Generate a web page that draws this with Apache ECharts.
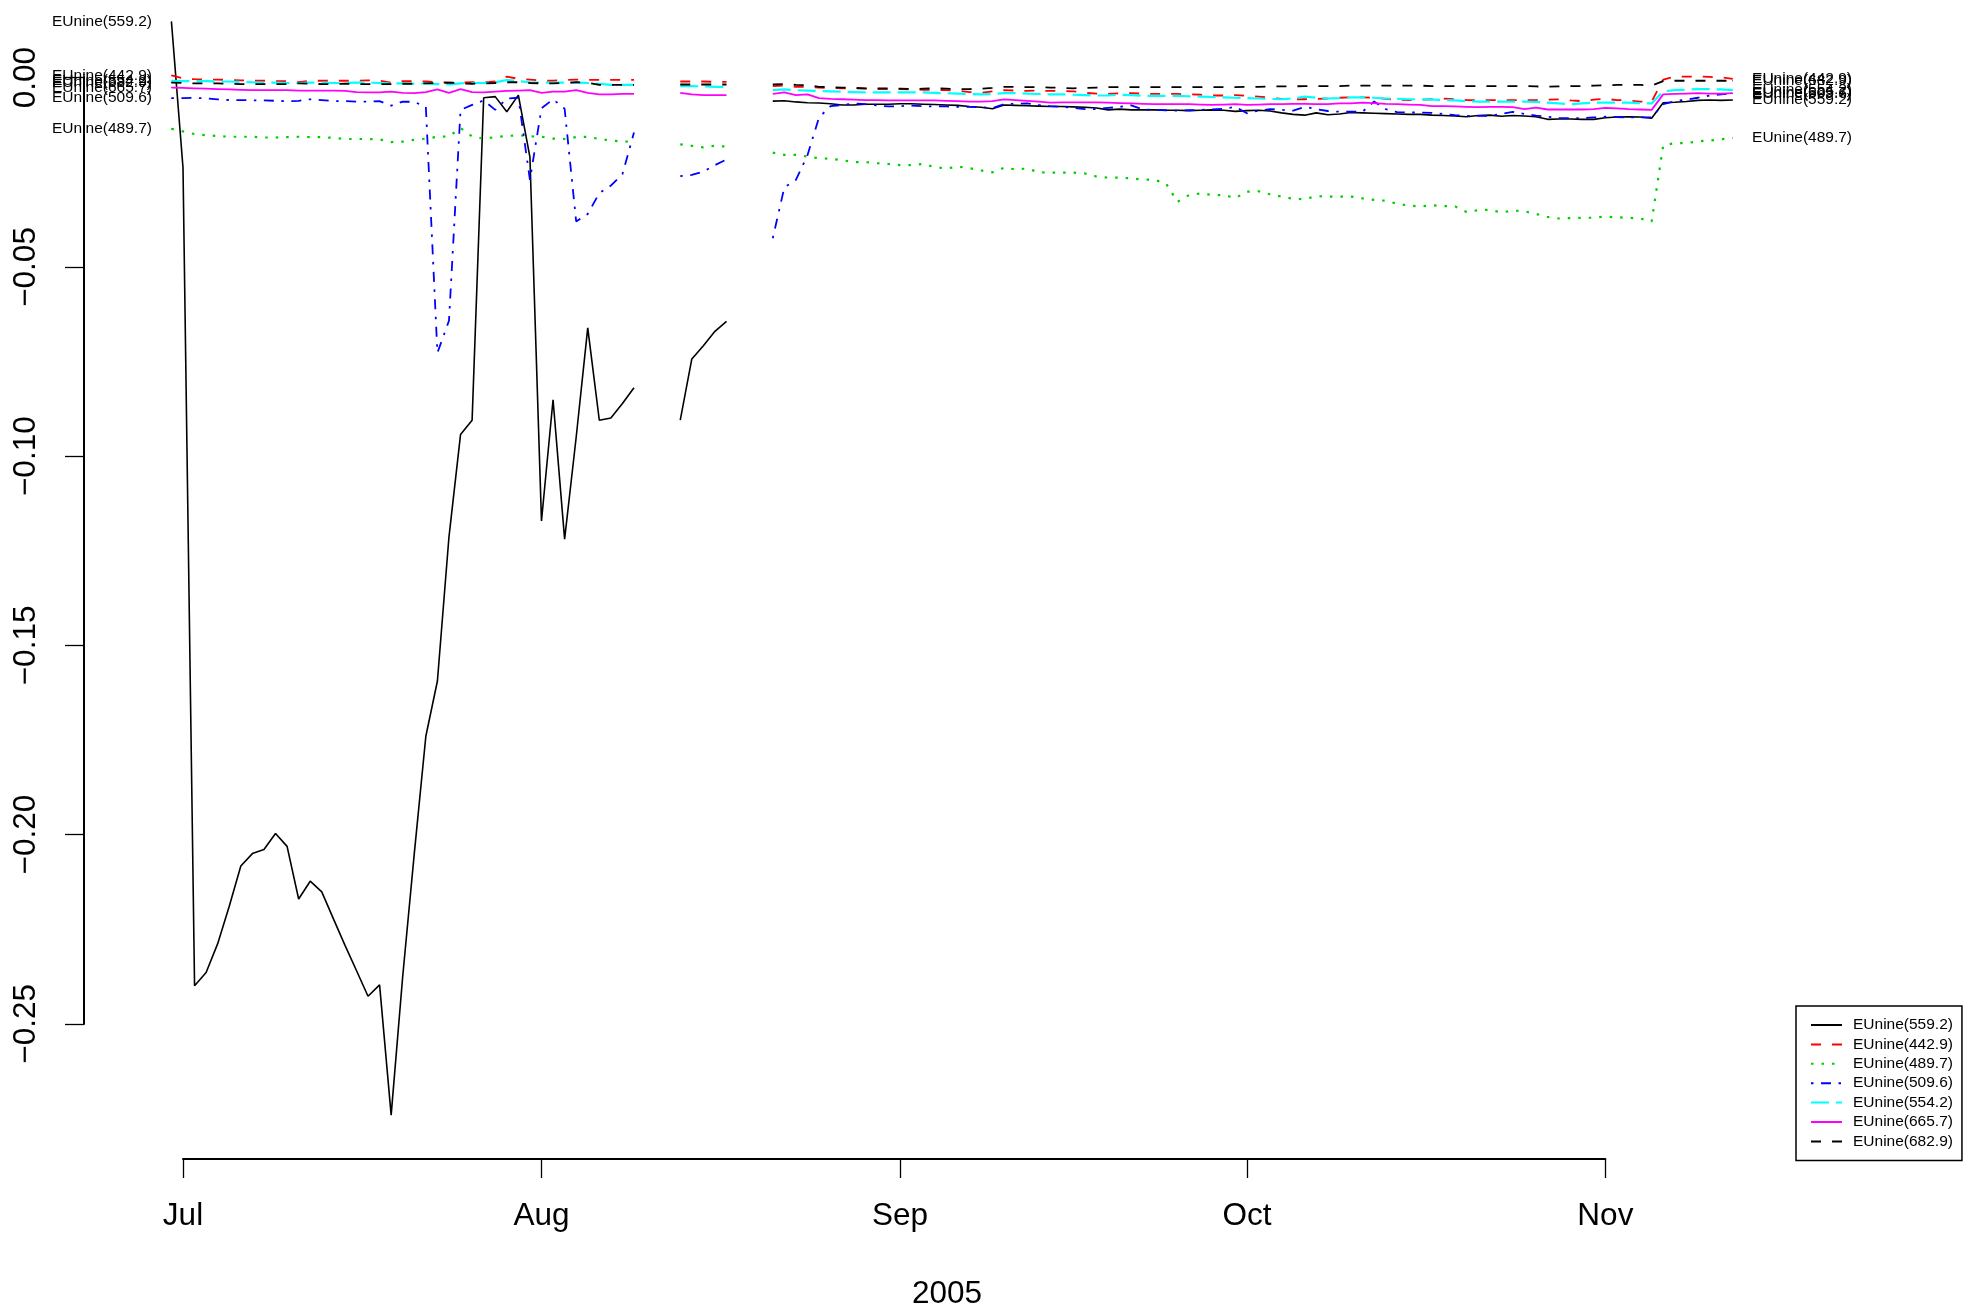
<!DOCTYPE html>
<html><head><meta charset="utf-8">
<script src="https://cdn.jsdelivr.net/npm/echarts@6/dist/echarts.min.js"></script>
<style>html,body{margin:0;padding:0;background:#fff;}#c{width:1965px;height:1313px;}</style>
</head><body><div id="c"></div>
<script>
// ---------- data (x = days since 2005-07-01, first value at day -1) ----------
const dayStart = -1;
const seriesNames = ['EUnine(559.2)','EUnine(442.9)','EUnine(489.7)','EUnine(509.6)','EUnine(554.2)','EUnine(665.7)','EUnine(682.9)'];
const s559 = [
 0.0148,-0.0238,-0.2399,-0.2364,-0.2288,-0.2189,-0.2083,-0.2050,-0.2039,-0.1997,
 -0.2031,-0.2170,-0.2123,-0.2151,-0.2222,-0.2292,-0.2359,-0.2427,-0.2397,-0.2741,
 -0.2374,-0.2050,-0.1740,-0.1594,-0.1213,-0.0943,-0.0905,-0.0053,-0.0050,-0.0090,
 -0.0046,-0.0210,-0.1171,-0.0851,-0.1219,-0.0950,-0.0661,-0.0905,-0.0899,-0.0861,
 -0.0819,null,null,null,-0.0905,-0.0743,-0.0708,-0.0670,-0.0644,null,
 null,null,-0.0062,-0.0061,-0.0064,-0.0066,-0.0067,-0.0069,-0.0072,-0.0072,
 -0.0070,-0.0070,-0.0070,-0.0069,-0.0069,-0.0070,-0.0071,-0.0072,-0.0073,-0.0076,
 -0.0078,-0.0082,-0.0072,-0.0073,-0.0074,-0.0075,-0.0076,-0.0076,-0.0077,-0.0078,
 -0.0080,-0.0085,-0.0083,-0.0085,-0.0085,-0.0085,-0.0086,-0.0086,-0.0087,-0.0086,
 -0.0085,-0.0086,-0.0089,-0.0087,-0.0086,-0.0088,-0.0093,-0.0097,-0.0099,-0.0093,
 -0.0098,-0.0096,-0.0092,-0.0093,-0.0094,-0.0095,-0.0096,-0.0097,-0.0097,-0.0099,
 -0.0100,-0.0101,-0.0103,-0.0100,-0.0099,-0.0102,-0.0100,-0.0101,-0.0103,-0.0110,
 -0.0109,-0.0109,-0.0110,-0.0110,-0.0106,-0.0104,-0.0103,-0.0104,-0.0107,-0.0066,
 -0.0065,-0.0063,-0.0060,-0.0059,-0.0060,-0.0059];
const s442 = [
 0.0006,-0.0002,-0.0004,-0.0005,-0.0005,-0.0006,-0.0007,-0.0008,-0.0008,-0.0009,
 -0.0009,-0.0012,-0.0008,-0.0008,-0.0008,-0.0008,-0.0008,-0.0007,-0.0008,-0.0013,
 -0.0009,-0.0009,-0.0010,-0.0012,-0.0013,-0.0013,-0.0012,-0.0012,-0.0010,0.0003,
 -0.0003,-0.0005,-0.0008,-0.0008,-0.0006,-0.0005,-0.0006,-0.0006,-0.0006,-0.0006,
 -0.0006,null,null,null,-0.0010,-0.0010,-0.0010,-0.0011,-0.0011,null,
 null,null,-0.0022,-0.0021,-0.0024,-0.0024,-0.0026,-0.0027,-0.0028,-0.0028,
 -0.0029,-0.0030,-0.0030,-0.0030,-0.0031,-0.0032,-0.0032,-0.0033,-0.0034,-0.0038,
 -0.0040,-0.0036,-0.0033,-0.0034,-0.0035,-0.0034,-0.0035,-0.0035,-0.0036,-0.0040,
 -0.0042,-0.0043,-0.0041,-0.0041,-0.0042,-0.0043,-0.0043,-0.0043,-0.0044,-0.0045,
 -0.0047,-0.0047,-0.0046,-0.0048,-0.0050,-0.0053,-0.0056,-0.0057,-0.0057,-0.0056,
 -0.0055,-0.0053,-0.0052,-0.0052,-0.0053,-0.0056,-0.0058,-0.0059,-0.0058,-0.0057,
 -0.0055,-0.0057,-0.0059,-0.0059,-0.0059,-0.0059,-0.0059,-0.0059,-0.0059,-0.0058,
 -0.0057,-0.0060,-0.0062,-0.0058,-0.0056,-0.0059,-0.0060,-0.0063,-0.0063,-0.0005,
 0.0003,0.0003,0.0003,0.0002,0.0001,-0.0003];
const s489 = [
 -0.0135,-0.0142,-0.0149,-0.0152,-0.0154,-0.0156,-0.0156,-0.0156,-0.0158,-0.0158,
 -0.0157,-0.0156,-0.0157,-0.0157,-0.0159,-0.0162,-0.0162,-0.0162,-0.0163,-0.0170,
 -0.0169,-0.0164,-0.0161,-0.0156,-0.0155,-0.0133,-0.0155,-0.0161,-0.0157,-0.0154,
 -0.0152,-0.0155,-0.0156,-0.0161,-0.0162,-0.0157,-0.0156,-0.0162,-0.0166,-0.0169,
 -0.0168,null,null,null,-0.0176,-0.0180,-0.0184,-0.0180,-0.0182,null,
 null,null,-0.0198,-0.0204,-0.0204,-0.0208,-0.0213,-0.0214,-0.0218,-0.0223,
 -0.0223,-0.0226,-0.0228,-0.0231,-0.0231,-0.0228,-0.0236,-0.0240,-0.0235,-0.0239,
 -0.0245,-0.0250,-0.0238,-0.0242,-0.0240,-0.0250,-0.0251,-0.0251,-0.0251,-0.0253,
 -0.0261,-0.0264,-0.0264,-0.0266,-0.0269,-0.0270,-0.0279,-0.0328,-0.0310,-0.0306,
 -0.0310,-0.0310,-0.0318,-0.0301,-0.0300,-0.0308,-0.0314,-0.0320,-0.0321,-0.0313,
 -0.0314,-0.0314,-0.0314,-0.0319,-0.0323,-0.0325,-0.0333,-0.0338,-0.0340,-0.0337,
 -0.0339,-0.0340,-0.0355,-0.0350,-0.0349,-0.0356,-0.0351,-0.0353,-0.0360,-0.0368,
 -0.0372,-0.0371,-0.0370,-0.0370,-0.0367,-0.0369,-0.0370,-0.0372,-0.0380,-0.0179,
 -0.0173,-0.0173,-0.0168,-0.0166,-0.0163,-0.0159];
const s509 = [
 -0.0054,-0.0054,-0.0053,-0.0055,-0.0057,-0.0059,-0.0059,-0.0060,-0.0060,-0.0061,
 -0.0062,-0.0061,-0.0057,-0.0059,-0.0062,-0.0062,-0.0063,-0.0063,-0.0062,-0.0074,
 -0.0063,-0.0064,-0.0077,-0.0727,-0.0642,-0.0085,-0.0072,-0.0060,-0.0085,-0.0055,
 -0.0053,-0.0270,-0.0081,-0.0057,-0.0082,-0.0380,-0.0360,-0.0305,-0.0285,-0.0255,
 -0.0145,null,null,null,-0.0260,-0.0257,-0.0248,-0.0231,-0.0216,null,
 null,null,-0.0424,-0.0290,-0.0270,-0.0205,-0.0105,-0.0075,-0.0072,-0.0068,
 -0.0070,-0.0073,-0.0076,-0.0075,-0.0074,-0.0075,-0.0076,-0.0076,-0.0077,-0.0077,
 -0.0078,-0.0080,-0.0070,-0.0069,-0.0068,-0.0072,-0.0075,-0.0077,-0.0080,-0.0083,
 -0.0083,-0.0080,-0.0077,-0.0073,-0.0084,-0.0085,-0.0086,-0.0087,-0.0086,-0.0085,
 -0.0084,-0.0082,-0.0077,-0.0094,-0.0087,-0.0083,-0.0085,-0.0087,-0.0077,-0.0083,
 -0.0088,-0.0090,-0.0090,-0.0090,-0.0063,-0.0083,-0.0091,-0.0092,-0.0092,-0.0093,
 -0.0096,-0.0099,-0.0101,-0.0101,-0.0101,-0.0096,-0.0090,-0.0096,-0.0100,-0.0103,
 -0.0106,-0.0107,-0.0107,-0.0105,-0.0103,-0.0104,-0.0105,-0.0105,-0.0105,-0.0070,
 -0.0062,-0.0058,-0.0053,-0.0047,-0.0044,-0.0042];
const s554 = [
 -0.0008,-0.0009,-0.0009,-0.0009,-0.0010,-0.0010,-0.0011,-0.0012,-0.0013,-0.0013,
 -0.0014,-0.0014,-0.0013,-0.0013,-0.0014,-0.0014,-0.0013,-0.0013,-0.0014,-0.0015,
 -0.0015,-0.0016,-0.0015,-0.0017,-0.0018,-0.0015,-0.0014,-0.0014,-0.0012,-0.0006,
 -0.0009,-0.0012,-0.0013,-0.0013,-0.0013,-0.0013,-0.0014,-0.0016,-0.0019,-0.0019,
 -0.0019,null,null,null,-0.0022,-0.0022,-0.0023,-0.0024,-0.0024,null,
 null,null,-0.0033,-0.0031,-0.0033,-0.0034,-0.0035,-0.0036,-0.0037,-0.0038,
 -0.0039,-0.0039,-0.0039,-0.0039,-0.0039,-0.0039,-0.0040,-0.0041,-0.0042,-0.0043,
 -0.0044,-0.0043,-0.0041,-0.0041,-0.0042,-0.0043,-0.0044,-0.0044,-0.0045,-0.0046,
 -0.0047,-0.0047,-0.0045,-0.0046,-0.0048,-0.0048,-0.0048,-0.0048,-0.0049,-0.0050,
 -0.0051,-0.0052,-0.0053,-0.0054,-0.0055,-0.0056,-0.0057,-0.0055,-0.0050,-0.0053,
 -0.0055,-0.0054,-0.0052,-0.0052,-0.0053,-0.0055,-0.0056,-0.0057,-0.0057,-0.0058,
 -0.0059,-0.0060,-0.0062,-0.0063,-0.0063,-0.0063,-0.0063,-0.0063,-0.0064,-0.0066,
 -0.0068,-0.0070,-0.0068,-0.0066,-0.0066,-0.0066,-0.0066,-0.0067,-0.0068,-0.0036,
 -0.0033,-0.0032,-0.0030,-0.0030,-0.0031,-0.0033];
const s665 = [
 -0.0026,-0.0027,-0.0028,-0.0029,-0.0030,-0.0031,-0.0032,-0.0033,-0.0033,-0.0033,
 -0.0033,-0.0034,-0.0034,-0.0034,-0.0034,-0.0035,-0.0038,-0.0039,-0.0039,-0.0037,
 -0.0040,-0.0041,-0.0038,-0.0031,-0.0040,-0.0030,-0.0038,-0.0039,-0.0037,-0.0035,
 -0.0034,-0.0033,-0.0040,-0.0037,-0.0037,-0.0033,-0.0040,-0.0044,-0.0044,-0.0043,
 -0.0043,null,null,null,-0.0040,-0.0044,-0.0046,-0.0046,-0.0046,null,
 null,null,-0.0043,-0.0039,-0.0046,-0.0044,-0.0054,-0.0056,-0.0057,-0.0058,
 -0.0059,-0.0059,-0.0060,-0.0060,-0.0060,-0.0060,-0.0060,-0.0061,-0.0062,-0.0063,
 -0.0063,-0.0062,-0.0057,-0.0059,-0.0061,-0.0063,-0.0066,-0.0065,-0.0065,-0.0065,
 -0.0065,-0.0066,-0.0067,-0.0068,-0.0069,-0.0070,-0.0070,-0.0070,-0.0070,-0.0071,
 -0.0072,-0.0071,-0.0070,-0.0072,-0.0071,-0.0070,-0.0070,-0.0069,-0.0069,-0.0070,
 -0.0070,-0.0068,-0.0068,-0.0066,-0.0067,-0.0069,-0.0070,-0.0071,-0.0072,-0.0075,
 -0.0075,-0.0076,-0.0077,-0.0078,-0.0077,-0.0077,-0.0078,-0.0083,-0.0079,-0.0084,
 -0.0084,-0.0084,-0.0084,-0.0083,-0.0080,-0.0081,-0.0083,-0.0084,-0.0085,-0.0044,
 -0.0043,-0.0042,-0.0041,-0.0042,-0.0042,-0.0041];
const s682 = [
 -0.0013,-0.0014,-0.0015,-0.0015,-0.0015,-0.0016,-0.0017,-0.0017,-0.0017,-0.0017,
 -0.0017,-0.0015,-0.0016,-0.0017,-0.0017,-0.0016,-0.0017,-0.0017,-0.0017,-0.0017,
 -0.0016,-0.0016,-0.0015,-0.0014,-0.0013,-0.0015,-0.0016,-0.0015,-0.0014,-0.0012,
 -0.0012,-0.0014,-0.0015,-0.0015,-0.0014,-0.0012,-0.0013,-0.0019,-0.0019,-0.0019,
 -0.0019,null,null,null,-0.0018,-0.0018,-0.0018,-0.0018,-0.0018,null,
 null,null,-0.0018,-0.0017,-0.0019,-0.0020,-0.0024,-0.0025,-0.0026,-0.0027,
 -0.0028,-0.0028,-0.0028,-0.0029,-0.0030,-0.0029,-0.0028,-0.0029,-0.0030,-0.0030,
 -0.0029,-0.0027,-0.0024,-0.0024,-0.0025,-0.0025,-0.0026,-0.0027,-0.0028,-0.0027,
 -0.0026,-0.0025,-0.0025,-0.0025,-0.0025,-0.0025,-0.0025,-0.0025,-0.0025,-0.0025,
 -0.0025,-0.0025,-0.0025,-0.0024,-0.0024,-0.0023,-0.0023,-0.0023,-0.0022,-0.0022,
 -0.0022,-0.0022,-0.0021,-0.0021,-0.0021,-0.0021,-0.0021,-0.0021,-0.0021,-0.0022,
 -0.0022,-0.0022,-0.0022,-0.0022,-0.0022,-0.0022,-0.0022,-0.0022,-0.0023,-0.0024,
 -0.0023,-0.0022,-0.0022,-0.0021,-0.0020,-0.0019,-0.0019,-0.0019,-0.0021,-0.0009,
 -0.0008,-0.0008,-0.0008,-0.0008,-0.0008,-0.0008];
const monthTickDays = [0, 31, 62, 92, 123];
const monthLabels = ['Jul', 'Aug', 'Sep', 'Oct', 'Nov'];
const yTickValues = [0, -0.05, -0.10, -0.15, -0.20, -0.25];
const yTickLabels = ['0.00', '\u22120.05', '\u22120.10', '\u22120.15', '\u22120.20', '\u22120.25'];
const xTitle = '2005';

// ---------- styling / layout ----------
const FONT = '"Liberation Sans", Arial, Helvetica, sans-serif';
const colors = ['#000000', '#ff0000', '#00cd00', '#0000ff', '#00ffff', '#ff00ff', '#000000'];
const dashes = ['solid', [10, 11], [2.5, 8], [2.5, 7.5, 10, 7.5], [18, 7], 'solid', [10, 11]];
const widths = [1.6, 1.8, 2.2, 1.8, 2.2, 1.8, 1.8];
const X0 = 183, PPD = 11.564;   // px of day 0, px per day
const Y0 = 77.7, PPU = 3784.8;  // px of value 0, px per unit
const XMIN = -10, XMAX = 140, YMIN = -0.29, YMAX = 0.02;

const allValues = [s559, s442, s489, s509, s554, s665, s682];

function buildData(vals, name) {
  const first = vals.findIndex(v => v !== null);
  let last = vals.length - 1; while (vals[last] === null) last--;
  return vals.map((v, i) => {
    const d = dayStart + i;
    if (v === null) return [d, '-'];
    if (i === first || i === last) {
      return {
        value: [d, v], symbol: 'circle', symbolSize: 1,
        label: { show: true, position: i === first ? 'left' : 'right', distance: 19,
          formatter: () => name, color: '#000', fontSize: 15.5, fontFamily: FONT }
      };
    }
    return [d, v];
  });
}

const series = allValues.map((vals, k) => ({
  name: seriesNames[k], type: 'line', xAxisIndex: 0, yAxisIndex: 0,
  data: buildData(vals, seriesNames[k]),
  symbol: 'none', showSymbol: true, connectNulls: false, silent: true,
  emphasis: { disabled: true },
  itemStyle: { color: colors[k] },
  lineStyle: { color: colors[k], width: widths[k], type: dashes[k] }
}));

const chart = echarts.init(document.getElementById('c'), null, { renderer: 'canvas' });
chart.setOption({
  animation: false,
  backgroundColor: '#ffffff',
  grid: [
    { left: X0 + XMIN * PPD, width: (XMAX - XMIN) * PPD, top: Y0 - YMAX * PPU, height: (YMAX - YMIN) * PPU, outerBoundsMode: 'none', containLabel: false },
    { left: X0, width: 123 * PPD, top: 1100, height: 59, outerBoundsMode: 'none', containLabel: false },
    { left: 84, width: 50, top: Y0, height: 0.25 * PPU, outerBoundsMode: 'none', containLabel: false }
  ],
  xAxis: [
    { type: 'value', gridIndex: 0, min: XMIN, max: XMAX, show: false },
    { type: 'value', gridIndex: 1, min: 0, max: 123, position: 'bottom',
      axisLine: { show: true, lineStyle: { color: '#000', width: 2 } },
      axisTick: { show: true, length: 19, customValues: monthTickDays, lineStyle: { color: '#000', width: 1.3 } },
      axisLabel: { show: true, customValues: monthTickDays, margin: 41, fontSize: 31.5, fontFamily: FONT, color: '#000',
        formatter: v => { const i = monthTickDays.indexOf(Math.round(v)); return i >= 0 ? monthLabels[i] : ''; } },
      splitLine: { show: false } },
    { type: 'value', gridIndex: 2, min: 0, max: 1, show: false }
  ],
  yAxis: [
    { type: 'value', gridIndex: 0, min: YMIN, max: YMAX, show: false },
    { type: 'value', gridIndex: 1, min: 0, max: 1, show: false },
    { type: 'value', gridIndex: 2, min: -0.25, max: 0, interval: 0.05, position: 'left',
      axisLine: { show: true, lineStyle: { color: '#000', width: 2 } },
      axisTick: { show: true, length: 19, lineStyle: { color: '#000', width: 1.3 } },
      axisLabel: { show: true, rotate: 90, margin: 42, fontSize: 31.5, fontFamily: FONT, color: '#000',
        formatter: v => { let bi = 0, bd = 1e9; yTickValues.forEach((t, i) => { const dd = Math.abs(t - v); if (dd < bd) { bd = dd; bi = i; } }); return yTickLabels[bi]; } },
      splitLine: { show: false } }
  ],
  legend: {
    orient: 'vertical', left: 1796, top: 1006,
    data: seriesNames,
    itemWidth: 31, itemHeight: 14, itemGap: 3.4,
    padding: [11, 9, 11, 14],
    borderColor: '#000', borderWidth: 1.5, borderRadius: 0,
    itemStyle: { opacity: 0, borderWidth: 0 },
    textStyle: { fontSize: 15.5, lineHeight: 16, fontFamily: FONT, color: '#000', padding: [0, 0, 0, 6] },
    selectedMode: false
  },
  graphic: [
    { type: 'text', x: 947, y: 1294, silent: true,
      style: { text: xTitle, fontSize: 31.5, fontFamily: FONT, fill: '#000', align: 'center', verticalAlign: 'middle' } }
  ],
  series: series
});
</script>
</body></html>
